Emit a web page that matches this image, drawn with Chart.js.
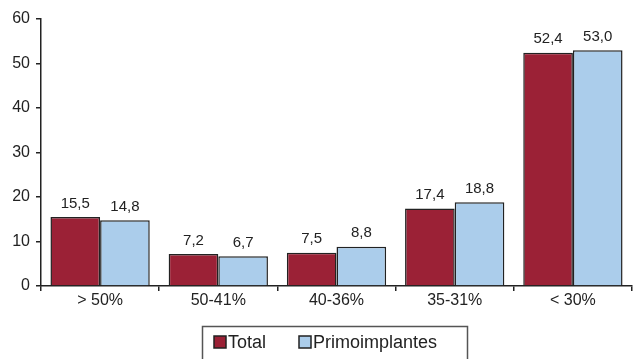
<!DOCTYPE html>
<html>
<head>
<meta charset="utf-8">
<script src="https://cdn.jsdelivr.net/npm/chart.js@4/dist/chart.umd.min.js"></script>
<style>
  html, body { margin: 0; padding: 0; background: #fff; }
  #wrap { width: 633px; height: 359px; }
</style>
</head>
<body>
<div id="wrap"><canvas id="c" width="633" height="359"></canvas></div>
<script>
const categories = ['> 50%', '50-41%', '40-36%', '35-31%', '< 30%'];
const totalValues = [15.5, 7.2, 7.5, 17.4, 52.4];
const primoValues = [14.8, 6.7, 8.8, 18.8, 53.0];
const seriesNames = ['Total', 'Primoimplantes'];
const yTicks = [0, 10, 20, 30, 40, 50, 60];

const RED = '#9b2136';
const BLUE = '#abcdeb';
const EDGE = '#222222';
const FONT = 'Liberation Sans, Arial, sans-serif';

const fmt = v => v.toFixed(1).replace('.', ',');

// Value labels above each bar
const valueLabels = {
  id: 'valueLabels',
  afterDatasetsDraw(chart) {
    const ctx = chart.ctx;
    ctx.save();
    ctx.font = '15px ' + FONT;
    ctx.fillStyle = '#222';
    ctx.textAlign = 'center';
    ctx.textBaseline = 'bottom';
    chart.data.datasets.forEach((ds, i) => {
      chart.getDatasetMeta(i).data.forEach((bar, j) => {
        ctx.fillText(fmt(ds.data[j]), bar.x, bar.y - 6);
      });
    });
    ctx.restore();
  }
};

// Boxed legend under the axis
const boxedLegend = {
  id: 'boxedLegend',
  afterDraw(chart) {
    const ctx = chart.ctx;
    ctx.save();
    ctx.lineWidth = 1.5;
    ctx.strokeStyle = '#555';
    ctx.strokeRect(202.5, 326.5, 265, 40);
    ctx.font = '18px ' + FONT;
    ctx.textBaseline = 'middle';
    ctx.textAlign = 'left';
    const items = [
      { x: 214, label: chart.data.datasets[0].label, color: chart.data.datasets[0].backgroundColor },
      { x: 299, label: chart.data.datasets[1].label, color: chart.data.datasets[1].backgroundColor }
    ];
    items.forEach(it => {
      ctx.fillStyle = it.color;
      ctx.fillRect(it.x, 336, 12, 12);
      ctx.lineWidth = 1.5;
      ctx.strokeStyle = EDGE;
      ctx.strokeRect(it.x, 336, 12, 12);
      ctx.fillStyle = '#222';
      ctx.fillText(it.label, it.x + 14, 343);
    });
    ctx.restore();
  }
};

new Chart(document.getElementById('c'), {
  type: 'bar',
  data: {
    labels: categories,
    datasets: [
      { label: seriesNames[0], data: totalValues, backgroundColor: RED, borderColor: EDGE, borderWidth: 1.5 },
      { label: seriesNames[1], data: primoValues, backgroundColor: BLUE, borderColor: EDGE, borderWidth: 1.5 }
    ]
  },
  options: {
    responsive: false,
    animation: false,
    devicePixelRatio: 1,
    layout: { padding: { top: 19, right: 1, left: 0, bottom: 0 } },
    plugins: { legend: { display: false }, tooltip: { enabled: false } },
    datasets: { bar: { categoryPercentage: 0.84, barPercentage: 1.0 } },
    scales: {
      x: {
        offset: true,
        grid: { offset: true, drawOnChartArea: false, drawTicks: true, tickLength: 5, color: '#222', lineWidth: 1.5 },
        border: { display: true, color: '#222', width: 1.5 },
        ticks: { color: '#222', font: { family: FONT, size: 16 }, padding: 0, maxRotation: 0 },
        afterFit(scale) { scale.height = 73; }
      },
      y: {
        min: 0,
        max: 60,
        afterBuildTicks(scale) { scale.ticks = yTicks.map(v => ({ value: v })); },
        grid: { drawOnChartArea: false, drawTicks: true, tickLength: 5, color: '#222', lineWidth: 1.5 },
        border: { display: true, color: '#222', width: 1.5 },
        ticks: { color: '#222', font: { family: FONT, size: 16 }, padding: 6 },
        afterFit(scale) { scale.width = 41; }
      }
    }
  },
  plugins: [valueLabels, boxedLegend]
});
</script>
</body>
</html>
